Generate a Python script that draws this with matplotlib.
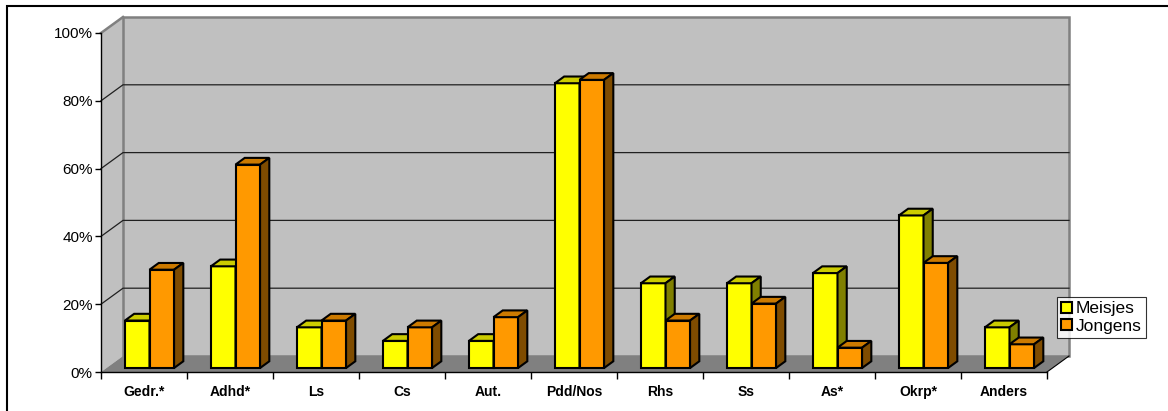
import matplotlib
matplotlib.use('Agg')
import matplotlib.pyplot as plt
import matplotlib.transforms as mtransforms
from matplotlib.patches import Polygon, Patch, Rectangle
from matplotlib.lines import Line2D

categories = ['Gedr.*', 'Adhd*', 'Ls', 'Cs', 'Aut.', 'Pdd/Nos', 'Rhs', 'Ss', 'As*', 'Okrp*', 'Anders']
meisjes = [14, 30, 12, 8, 8, 84, 25, 25, 28, 45, 12]
jongens = [29, 60, 14, 12, 15, 85, 14, 19, 6, 31, 7]
series_names = ['Meisjes', 'Jongens']
y_ticks = [0, 20, 40, 60, 80, 100]

# kleuren: voorkant, bovenkant, zijkant
face_cols = ['#FFFF00', '#FF9900']
top_cols = ['#CCCC00', '#CC7A00']
side_cols = ['#808000', '#7F4C00']

W, H, DPI = 1168, 411, 100
DEPTH = (22, 16)          # verschuiving (px) van de achterwand
BAR_D0, BAR_D1 = 0.25, 0.67

plt.rcParams['font.family'] = ['Liberation Sans', 'DejaVu Sans']
fig = plt.figure(figsize=(W / DPI, H / DPI), dpi=DPI)
ax = fig.add_axes([101 / W, (H - 372) / H, (1047 - 101) / W, (372 - 33) / H])
n = len(categories)
ax.set_xlim(0, n)
ax.set_ylim(0, 100)
ax.patch.set_visible(False)

ident = mtransforms.IdentityTransform()


def px(x, y, d=0.0, axes=False):
    t = ax.transAxes if axes else ax.transData
    X, Y = t.transform((x, y))
    return (X + d * DEPTH[0], Y + d * DEPTH[1])


def poly(pts, **kw):
    p = Polygon(pts, closed=True, transform=ident, clip_on=False, **kw)
    ax.add_artist(p)
    return p


def line(pts, **kw):
    xs, ys = zip(*pts)
    ax.add_artist(Line2D(xs, ys, transform=ident, clip_on=False, **kw))


# wanden en vloer
poly([px(0, 0, 0, True), px(0, 1, 0, True), px(0, 1, 1, True), px(0, 0, 1, True)],
     facecolor='#C0C0C0', edgecolor='none', zorder=0.5)
poly([px(0, 0, 1, True), px(1, 0, 1, True), px(1, 1, 1, True), px(0, 1, 1, True)],
     facecolor='#C0C0C0', edgecolor='#808080', linewidth=1.8, zorder=0.5)
poly([px(0, 0, 0, True), px(1, 0, 0, True), px(1, 0, 1, True), px(0, 0, 1, True)],
     facecolor='#808080', edgecolor='none', zorder=0.6)
line([px(1, 0, 0, True), px(1, 0, 1, True)], color='black', linewidth=0.8, zorder=0.7)
line([px(0, 1, 0, True), px(0, 1, 1, True)], color='#808080', linewidth=1.8, zorder=0.7)

for v in y_ticks[1:-1]:
    line([px(0, v, 0), px(0, v, 1), px(n, v, 1)], color='#202020', linewidth=0.9, zorder=0.7)

# staven
w = 1 / 3.5
offset = mtransforms.ScaledTranslation(BAR_D0 * DEPTH[0] / DPI, BAR_D0 * DEPTH[1] / DPI,
                                       fig.dpi_scale_trans)
for j, vals in enumerate([meisjes, jongens]):
    xs = [i + 0.75 * w + j * w for i in range(n)]
    bars = ax.bar(xs, vals, width=w, align='edge', color=face_cols[j],
                  edgecolor='black', linewidth=1.5, label=series_names[j])
    for i, (b, x0, v) in enumerate(zip(bars, xs, vals)):
        z = 3 + (i * 2 + j) * 0.01
        b.set_transform(ax.transData + offset)
        b.set_clip_on(False)
        b.set_zorder(z)
        x1 = x0 + w
        poly([px(x0, v, BAR_D0), px(x1, v, BAR_D0), px(x1, v, BAR_D1), px(x0, v, BAR_D1)],
             facecolor=top_cols[j], edgecolor='black', linewidth=1.5, zorder=z + 0.001)
        poly([px(x1, 0, BAR_D0), px(x1, v, BAR_D0), px(x1, v, BAR_D1), px(x1, 0, BAR_D1)],
             facecolor=side_cols[j], edgecolor='black', linewidth=1.5, zorder=z + 0.002)

# assen
for s in ['top', 'right']:
    ax.spines[s].set_visible(False)
for s in ['left', 'bottom']:
    ax.spines[s].set_linewidth(1)
ax.set_yticks(y_ticks, [f'{v}%' for v in y_ticks])
ax.tick_params(axis='y', direction='out', length=4, width=1, pad=2, labelsize=11)
ax.set_xticks(range(n + 1), [''] * (n + 1))
ax.set_xticks([i + 0.5 for i in range(n)], categories, minor=True)
ax.tick_params(axis='x', which='major', direction='out', length=5, width=1)
ax.tick_params(axis='x', which='minor', length=0, pad=9, labelsize=10)
for t in ax.get_xticklabels(minor=True):
    t.set_fontweight('bold')

# legenda
handles = [Patch(facecolor=face_cols[j], edgecolor='black', linewidth=1.5, label=series_names[j])
           for j in range(2)]
leg = fig.legend(handles=handles, loc='upper left', bbox_to_anchor=(1057 / W, (H - 297) / H),
                 bbox_transform=fig.transFigure, fontsize=12.5, frameon=True, fancybox=False,
                 edgecolor='black', handlelength=0.6, handleheight=0.6, handletextpad=0.25,
                 labelspacing=0.15, borderpad=0.25, borderaxespad=0)
leg.get_frame().set_linewidth(0.8)

# kader rond de grafiek
fig.add_artist(Rectangle((7 / W, -0.1), 1.2, (H - 6) / H + 0.1, transform=fig.transFigure,
                         fill=False, edgecolor='black', linewidth=1.5))

fig.savefig('out.png', dpi=DPI)
